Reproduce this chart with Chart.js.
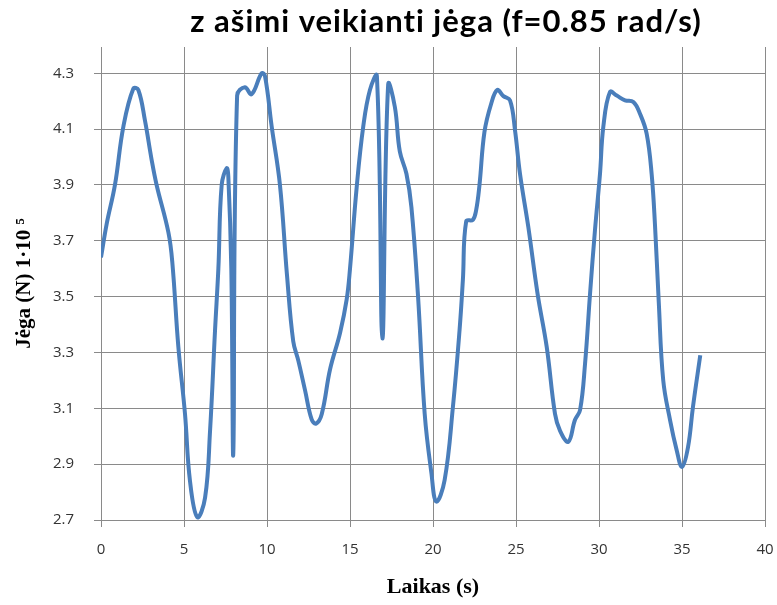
<!DOCTYPE html>
<html>
<head>
<meta charset="utf-8">
<script src="https://cdn.jsdelivr.net/npm/chart.js@4"></script>
<style>
  html, body { margin: 0; padding: 0; background: #fff; }
  #wrap { width: 777px; height: 605px; }
</style>
</head>
<body>
<div id="wrap"><canvas id="chart" width="777" height="605"></canvas></div>
<script>
// laikas (s) ir jėga (N·1e5), nuskaityta nuo paveikslėlio
const timeValues = [0, 0.34, 0.84, 1.35, 1.95, 2.25, 2.65, 3.05, 3.35, 4.06, 4.3, 4.66, 5.06, 5.36, 5.8,
  6.27, 6.57, 6.87, 7.07, 7.27, 7.57, 7.67, 7.85, 7.97, 8.2, 8.67, 9.07, 9.68, 9.88, 10.28, 10.78,
  11.2, 11.58, 11.89, 12.29, 12.69, 12.95, 13.3, 13.8, 14.4, 14.8, 15.0, 15.4, 15.8, 16.2, 16.62,
  16.95, 17.3, 17.7, 18.0, 18.4, 18.7, 19.1, 19.5, 19.9, 20.2, 20.7, 21.2, 21.6, 21.8, 22.0, 22.4,
  22.6, 22.8, 23.1, 23.5, 23.87, 24.24, 24.64, 24.94, 25.24, 25.74, 26.3, 26.85, 27.35, 27.65, 28.15,
  28.55, 28.86, 29.16, 29.46, 29.76, 30.06, 30.26, 30.66, 31.07, 31.57, 32.07, 32.47, 32.87, 33.17,
  33.37, 33.6, 33.87, 34.28, 34.68, 35.0, 35.36, 35.66, 36.1]
const forceValues = [3.64, 3.76, 3.9, 4.11, 4.245, 4.24, 4.13, 3.99, 3.9, 3.73, 3.62, 3.32, 3.08, 2.84, 2.71,
  2.78, 3.02, 3.38, 3.6, 3.9, 3.96, 3.93, 3.6, 2.94, 4.22, 4.25, 4.225, 4.3, 4.29, 4.11, 3.9,
  3.58, 3.34, 3.27, 3.165, 3.06, 3.045, 3.08, 3.24, 3.37, 3.49, 3.6, 3.89, 4.11, 4.24, 4.29,
  3.35, 4.26, 4.18, 4.02, 3.94, 3.82, 3.5, 3.08, 2.87, 2.766, 2.843, 3.105, 3.38, 3.56, 3.77, 3.775,
  3.81, 3.9, 4.09, 4.19, 4.24, 4.218, 4.203, 4.096, 3.94, 3.75, 3.51, 3.32, 3.08, 3.02, 2.98,
  3.058, 3.094, 3.26, 3.51, 3.74, 3.94, 4.108, 4.233, 4.22, 4.203, 4.197, 4.155, 4.084, 3.94,
  3.76, 3.48, 3.2, 3.058, 2.95, 2.89, 2.96, 3.105, 3.29]
const yTicks = [2.7, 2.9, 3.1, 3.3, 3.5, 3.7, 3.9, 4.1, 4.3]
const xTicks = [0, 5, 10, 15, 20, 25, 30, 35, 40]
const chartTitle = 'z ašimi veikianti jėga (f=0.85 rad/s)'

const points = []
for (let i = 0; i < timeValues.length; i++) {
  points.push({ x: timeValues[i], y: forceValues[i] })
}

const gridColor = '#8a8a8a'

// title sits a bit right of the canvas middle, like in the original
const titlePlugin = {
  id: 'titleText',
  afterDraw(chart) {
    const c = chart.ctx
    c.save()
    c.font = 'bold 31px Lato'
    c.letterSpacing = '1px'
    c.fillStyle = '#000'
    c.textAlign = 'center'
    c.textBaseline = 'alphabetic'
    c.fillText(chartTitle, 446, 32)
    c.restore()
  }
}

const ctx = document.getElementById('chart').getContext('2d')

new Chart(ctx, {
  type: 'line',
  data: {
    datasets: [{
      data: points,
      borderColor: '#4a7ebb',
      borderWidth: 4,
      pointRadius: 0,
      tension: 0.4,
      fill: false
    }]
  },
  options: {
    responsive: false,
    animation: false,
    layout: { padding: { left: 8, right: 12, top: 47, bottom: 4 } },
    plugins: {
      legend: { display: false },
      tooltip: { enabled: false },
      title: { display: false }
    },
    scales: {
      x: {
        type: 'linear',
        min: 0,
        max: 40,
        afterBuildTicks: s => { s.ticks = xTicks.map(v => ({ value: v })) },
        afterFit: s => { s.height = 81; s.paddingRight = 8; s.paddingLeft = 8 },
        grid: { color: gridColor, lineWidth: 1, tickLength: 7 },
        border: { color: gridColor, width: 1 },
        ticks: { color: '#333', padding: 14, font: { family: 'Open Sans', size: 15 } },
        title: {
          display: true,
          text: 'Laikas (s)',
          color: '#000',
          font: { family: 'Liberation Serif', size: 22, weight: 'bold' },
          padding: { top: 6, bottom: 0 }
        }
      },
      y: {
        min: 2.7,
        max: 4.394,
        afterBuildTicks: s => { s.ticks = yTicks.map(v => ({ value: v })) },
        afterFit: s => { s.width = 93 },
        grid: { color: gridColor, lineWidth: 1, tickLength: 7 },
        border: { color: gridColor, width: 1 },
        ticks: {
          color: '#333',
          padding: 20,
          font: { family: 'Open Sans', size: 15 },
          callback: v => v.toFixed(1)
        },
        title: {
          display: true,
          text: 'Jėga (N) 1·10 ⁵',
          color: '#000',
          font: { family: 'Liberation Serif', size: 21, weight: 'bold' },
          padding: { top: 4, bottom: 0 }
        }
      }
    }
  },
  plugins: [titlePlugin]
})
</script>
</body>
</html>
